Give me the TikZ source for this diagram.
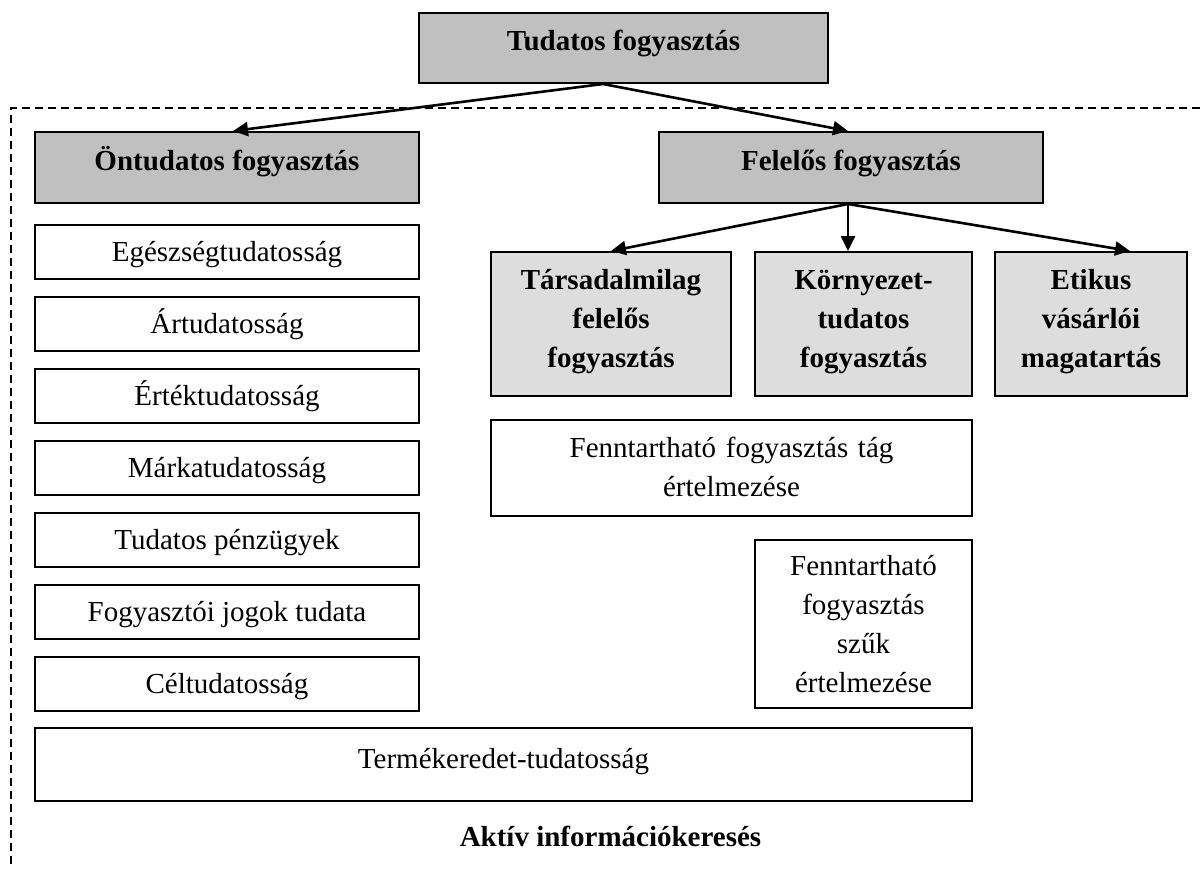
\documentclass[tikz,border=0pt]{standalone}
\usepackage{fontspec}
\setmainfont{Liberation Serif}
\usetikzlibrary{arrows.meta}
\definecolor{boxdark}{HTML}{C0C0C0}
\definecolor{boxlight}{HTML}{DDDDDD}
\begin{document}
\begin{tikzpicture}[x=0.5pt,y=-0.5pt,
  bx/.style={draw=black, line width=1pt, inner sep=0pt, fill=white,
    font=\fontsize{14.5}{19.5}\selectfont},
  hd/.style={bx, fill=boxdark, font=\fontsize{14.5}{19.5}\selectfont\bfseries},
  sub/.style={bx, fill=boxlight, align=center, minimum height=72pt,
    text height=5pt, text depth=40pt,
    font=\fontsize{14.5}{19.5}\selectfont\bfseries},
  lbox/.style={bx, minimum width=192pt, minimum height=27pt,
    text height=10pt, text depth=0.5pt},
  arr/.style={line width=1.3pt, -{Triangle[length=7.5pt,width=7pt]}},
  frame/.style={line width=0.8pt, dash pattern=on 4pt off 2.5pt}
]
\useasboundingbox (0,0) rectangle (1200,868);
\draw[frame] (1200,108) -- (11,108) -- (11,868);

\node[hd, minimum width=204.5pt, minimum height=35pt, text height=10pt, text depth=8pt] (tud) at (623.5,48) {Tudatos fogyasztás};
\node[hd, minimum width=192pt, minimum height=35.5pt, text height=10pt, text depth=7.5pt] (ont) at (227,167.5) {Öntudatos fogyasztás};
\node[hd, minimum width=192pt, minimum height=35.5pt, text height=10pt, text depth=7.5pt] (fel) at (851,167.5) {Felelős fogyasztás};

\node[lbox] (l1) at (227,252) {Egészségtudatosság};
\node[lbox] (l2) at (227,324) {Ártudatosság};
\node[lbox] (l3) at (227,396) {Értéktudatosság};
\node[lbox] (l4) at (227,468) {Márkatudatosság};
\node[lbox] (l5) at (227,540) {Tudatos pénzügyek};
\node[lbox] (l6) at (227,612) {Fogyasztói jogok tudata};
\node[lbox] (l7) at (227,684) {Céltudatosság};

\node[sub, minimum width=120pt, text width=110pt] (tar) at (611,324) {Társadalmilag\\felelős\\fogyasztás};
\node[sub, minimum width=108.5pt, text width=100pt] (kor) at (863.5,324) {Környezet-\\tudatos\\fogyasztás};
\node[sub, minimum width=96pt, text width=90pt] (eti) at (1091,324) {Etikus\\vásárlói\\magatartás};

\node[bx, align=center, minimum width=240.5pt, minimum height=48pt, text width=230pt, text height=5pt, text depth=16pt] (tag) at (731.5,468) {Fenntartható fogyasztás tág\\értelmezése};
\node[bx, align=center, minimum width=108.5pt, minimum height=84pt, text width=100pt, text height=5pt, text depth=54pt] (szuk) at (863.5,624) {Fenntartható\\fogyasztás\\szűk\\értelmezése};

\node[bx, minimum width=468.5pt, minimum height=36.5pt, text height=10pt, text depth=6.5pt] (ter) at (503.5,764.5) {Termékeredet-tudatosság};

\node[anchor=base, inner sep=0pt, font=\fontsize{14.5}{19.5}\selectfont\bfseries] (akt) at (610.5,846) {Aktív információkeresés};

\draw[arr] ([xshift=-10.25pt]tud.south) -- ([xshift=3pt]ont.north);
\draw[arr] ([xshift=-10.25pt]tud.south) -- ([xshift=-1.5pt]fel.north);
\draw[arr] ([xshift=-1.5pt]fel.south) -- (tar.north);
\draw[arr] ([xshift=-1.5pt]fel.south) -- ([xshift=-7.75pt]kor.north);
\draw[arr] ([xshift=-1.5pt]fel.south) -- ([xshift=19.5pt]eti.north);
\end{tikzpicture}
\end{document}
